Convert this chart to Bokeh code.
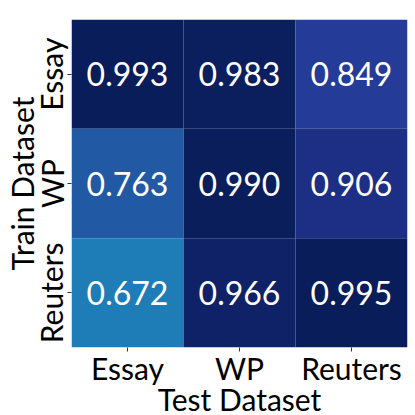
from bokeh.plotting import figure
from bokeh.models import ColumnDataSource, LinearColorMapper, FactorRange
from bokeh.palettes import YlGnBu9, interp_palette
from bokeh.core.properties import value
from bokeh.embed import file_html
from bokeh.resources import INLINE

test_sets = ["Essay", "WP", "Reuters"]
train_sets = ["Essay", "WP", "Reuters"]
scores = [
    [0.993, 0.983, 0.849],
    [0.763, 0.990, 0.906],
    [0.672, 0.966, 0.995],
]

xs, ys, vals, labels = [], [], [], []
for i, tr in enumerate(train_sets):
    for j, te in enumerate(test_sets):
        xs.append(te)
        ys.append(tr)
        vals.append(scores[i][j])
        labels.append(f"{scores[i][j]:.3f}")

src = ColumnDataSource(dict(x=xs, y=ys, v=vals, t=labels))
mapper = LinearColorMapper(palette=interp_palette(list(YlGnBu9[::-1]), 256), low=0, high=1)

FONT = "Lato"

p = figure(frame_width=336, frame_height=328,
           x_range=FactorRange(*test_sets), y_range=FactorRange(*train_sets[::-1]),
           output_backend="svg", toolbar_location=None,
           min_border_left=0, min_border_right=2, min_border_top=19, min_border_bottom=0)
p.x_range.range_padding = 0
p.y_range.range_padding = 0

p.rect(x="x", y="y", width=1, height=1, source=src,
       fill_color={"field": "v", "transform": mapper}, line_color=None)
p.text(x="x", y="y", text="t", source=src, text_align="center", text_baseline="middle",
       text_color="white", text_font_size="32px", text_font=value(FONT))

p.grid.visible = False
p.outline_line_color = None
for ax in (p.xaxis[0], p.yaxis[0]):
    ax.axis_line_color = None
    ax.major_tick_in = 0
    ax.major_tick_out = 4
    ax.major_tick_line_color = "#333333"
    ax.minor_tick_line_color = None
    ax.major_label_text_font = FONT
    ax.major_label_text_font_size = "30px"
    ax.major_label_text_color = "black"
    ax.axis_label_text_font = FONT
    ax.axis_label_text_font_size = "30px"
    ax.axis_label_text_font_style = "normal"
    ax.axis_label_text_color = "black"
    ax.group_text_font_size = "0px"

p.xaxis.axis_label = "Test Dataset"
p.yaxis.axis_label = "Train Dataset"
p.yaxis.major_label_orientation = "vertical"
p.xaxis.major_label_standoff = -2
p.xaxis.axis_label_standoff = -8
p.yaxis.major_label_standoff = -2
p.yaxis.axis_label_standoff = -9

open("out.html", "w").write(file_html(p, INLINE))
